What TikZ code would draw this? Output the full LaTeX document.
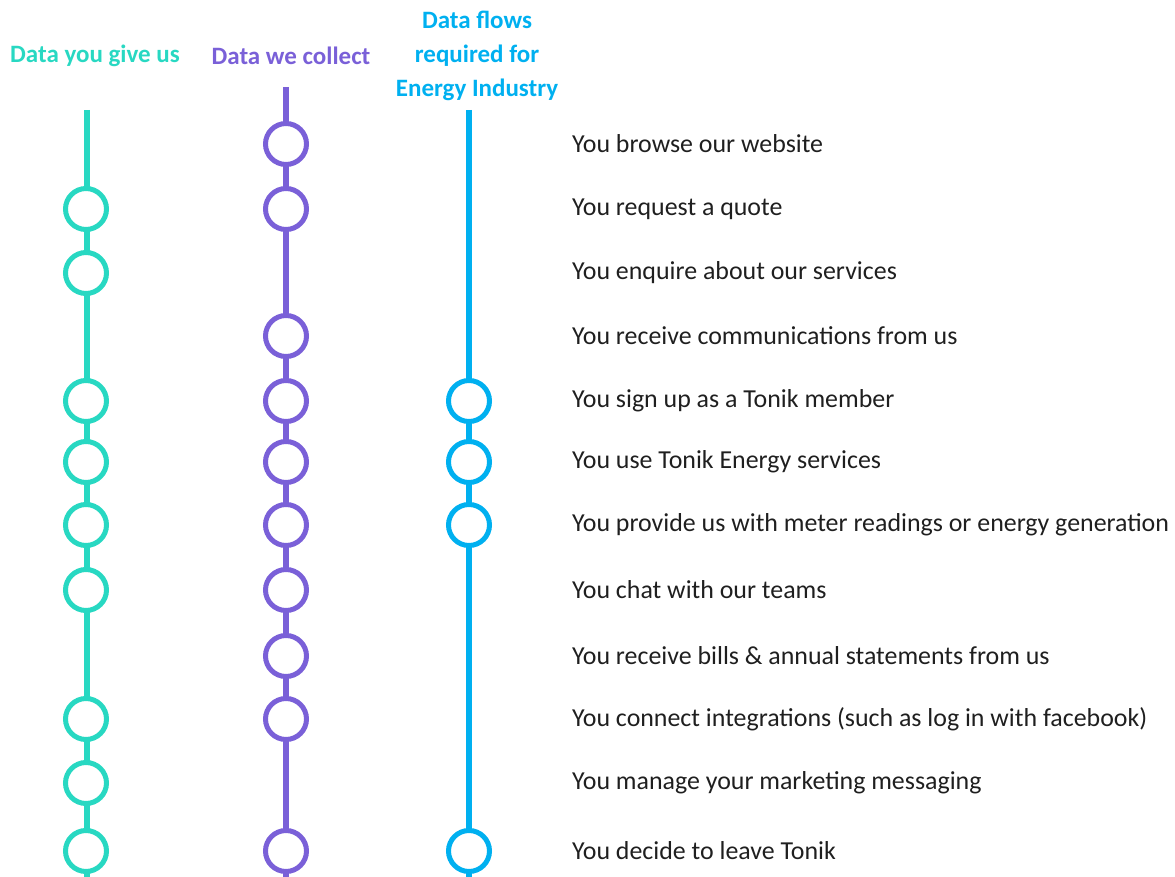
\documentclass[tikz,border=0pt]{standalone}
\usepackage{fontspec}
\setmainfont{Carlito}
\definecolor{cteal}{RGB}{40,216,194}
\definecolor{cpurple}{RGB}{122,96,216}
\definecolor{cblue}{RGB}{0,176,240}
\begin{document}
\begin{tikzpicture}[x=1pt,y=-1pt,
  dot/.style={circle,draw=#1,line width=5pt,fill=white,minimum size=41pt,inner sep=0pt},
  rail/.style={line width=5.5pt,draw=#1},
  lbl/.style={anchor=west,font=\fontsize{25.9}{30}\selectfont,inner sep=0pt,text=black!88},
  hdr/.style={font=\fontsize{25}{34}\selectfont\bfseries,align=center,inner sep=0pt}]
\useasboundingbox (0,0) rectangle (1175,877);
% headers
\node[hdr,text=cteal] (h1) at (95,56) {Data you give us};
\node[hdr,text=cpurple] (h2) at (291,56) {Data we collect};
\node[hdr,text=cblue] (h3) at (477,56) {Data flows\\required for\\Energy Industry};
% rails
\coordinate (t1) at (87,110); \coordinate (b1) at (87,877);
\coordinate (t2) at (286,87); \coordinate (b2) at (286,877);
\coordinate (t3) at (469,110); \coordinate (b3) at (469,877);
\draw[rail=cteal] (t1) -- (b1);
\draw[rail=cpurple] (t2) -- (b2);
\draw[rail=cblue] (t3) -- (b3);
% labels
\foreach \y/\t [count=\i] in {144/You browse our website,
  209/You request a quote,
  273/You enquire about our services,
  336/You receive communications from us,
  401/You sign up as a Tonik member,
  462/You use Tonik Energy services,
  525/You provide us with meter readings or energy generation,
  590/You chat with our teams,
  656/You receive bills \& annual statements from us,
  719/You connect integrations (such as log in with facebook),
  783/You manage your marketing messaging,
  851/You decide to leave Tonik}
  \node[lbl] (l\i) at (572,\y) {\t};
% circles
\foreach \y [count=\i] in {209,273,401,462,525,590,719,783,851}
  \node[dot=cteal] (a\i) at (86,\y) {};
\foreach \y [count=\i] in {144,209,336,401,462,525,590,656,719,851}
  \node[dot=cpurple] (p\i) at (286,\y) {};
\foreach \y [count=\i] in {401,462,525,851}
  \node[dot=cblue] (q\i) at (469,\y) {};
\end{tikzpicture}
\end{document}
